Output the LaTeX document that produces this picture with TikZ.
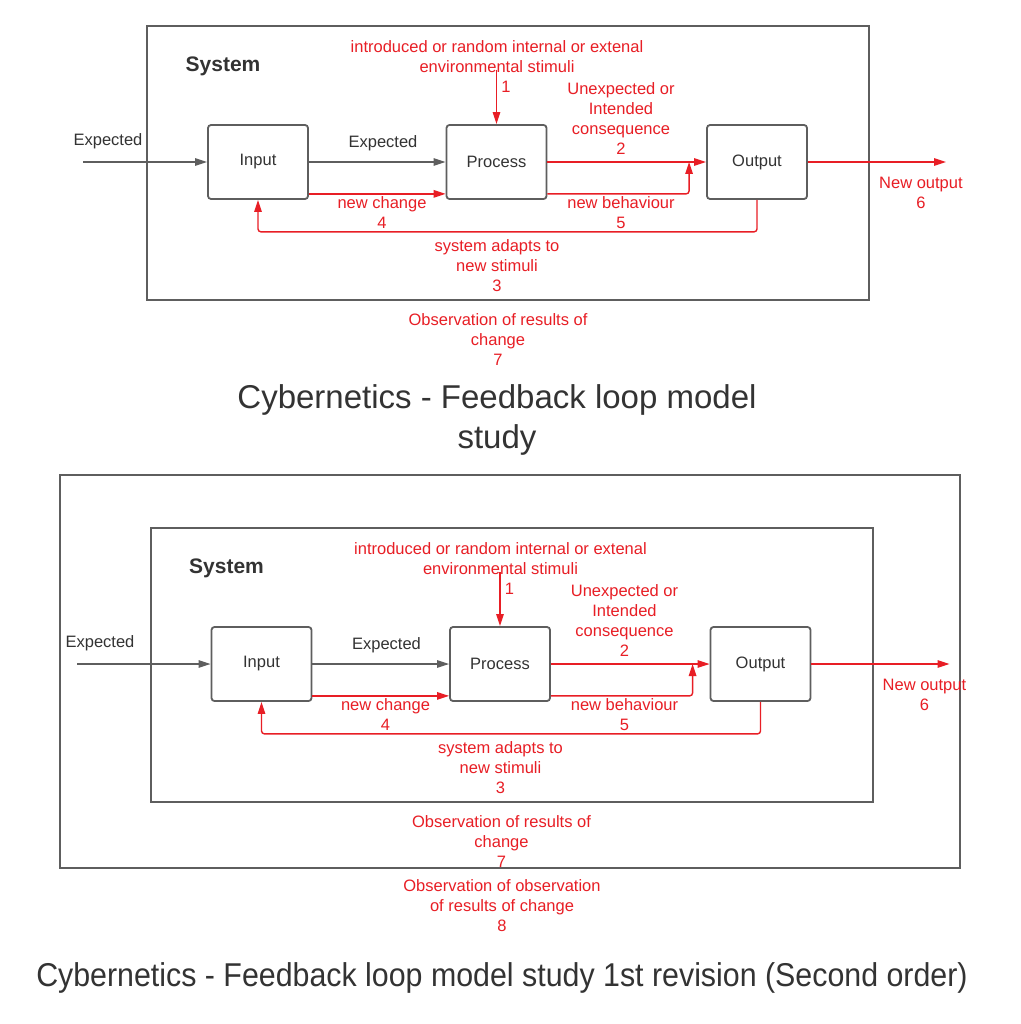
\documentclass[tikz,border=0pt]{standalone}
\usepackage{fontspec}
\setmainfont{Liberation Sans}
\usetikzlibrary{arrows.meta,calc}
\definecolor{lred}{RGB}{232,30,37}
\definecolor{lgray}{RGB}{94,94,94}
\definecolor{ltext}{RGB}{51,51,51}
\newcommand\lfont{\fontsize{16.5}{20}\selectfont}
\newcommand\tfont{\fontsize{33}{40}\selectfont}
\tikzset{
  block/.style={draw=lgray,line width=1.8pt,rounded corners=3pt,minimum width=100pt,minimum height=74pt,inner sep=0pt,text=ltext,font=\lfont},
  frame/.style={draw=lgray,line width=2pt},
  gline/.style={draw=lgray,line width=1.3pt,-{Triangle[length=12pt,width=7.5pt]}},
  rline/.style={draw=lred,line width=1.4pt,-{Triangle[length=12pt,width=7.5pt]},rounded corners=3pt},
  rlabel/.style={text=lred,font=\lfont,align=center,inner sep=0pt},
  glabel/.style={text=ltext,font=\lfont,align=center,inner sep=0pt},
  titlelabel/.style={text=ltext,font=\tfont,align=center,inner sep=0pt},
}
% #1 suffix, #2 #3 shift, #4 x of free start of input arrow, #5 x of its label
\newcommand\cyberdraw[5]{%
\begin{scope}[shift={(#2,#3)}]
  \draw[frame] (147,26) rectangle (869,300);
  \node[text=ltext,font=\fontsize{21}{25}\selectfont\bfseries,inner sep=0pt] (sys#1) at (223,66) {System};
  \node[block] (in#1) at (258,162) {Input};
  \node[block] (pr#1) at (496.5,162) {Process};
  \node[block] (out#1) at (757,162) {Output};
  \coordinate (src#1) at (#4,162);
  \coordinate (stim#1) at (496.5,70);
  \coordinate (dst#1) at (946,162);
  \draw[gline] (src#1) -- (in#1);
  \draw[gline] (in#1) -- (pr#1);
  \draw[rline] (stim#1) -- (pr#1.north);
  \draw[rline] (pr#1) -- (out#1);
  \draw[rline] ([yshift=6pt]in#1.south east) -- ([yshift=6pt]pr#1.south west);
  \draw[rline] ([yshift=6pt]pr#1.south east) -| ($(out#1.west)+(-17,0)$);
  \draw[rline] (out#1.south) -- ++(0,32) -| (in#1.south);
  \draw[rline] (out#1) -- (dst#1);
  \node[glabel] (le1#1) at (#5,141) {Expected};
  \node[glabel] (le2#1) at (383,143) {Expected};
  \node[rlabel] (lst#1) at (497,57) {introduced or random internal or extenal\\environmental stimuli};
  \node[rlabel] (lone#1) at (506,87) {1};
  \node[rlabel] (lcon#1) at (621,119) {Unexpected or\\Intended\\consequence\\2};
  \node[rlabel] (lchg#1) at (382,213) {new change\\4};
  \node[rlabel] (lbeh#1) at (621,213) {new behaviour\\5};
  \node[rlabel] (lad#1) at (497,266) {system adapts to\\new stimuli\\3};
  \node[rlabel] (lout#1) at ($(out#1.east)+(113,31)$) {New output\\6};
  \node[rlabel] (lobs#1) at (498,340) {Observation of results of\\change\\7};
\end{scope}}
\begin{document}
\begin{tikzpicture}[x=1pt,y=-1pt]
  \useasboundingbox[fill=white] (0,0) rectangle (1020,1024);
  \cyberdraw{a}{0}{0}{83}{108}
  \node[titlelabel] (title1) at (497,420) {Cybernetics - Feedback loop model\\study};
  \draw[frame,line width=2.2pt] (60,475) rectangle (960,868);
  \cyberdraw{b}{3.5}{502}{73.5}{96.5}
  \node[rlabel] (lobs2) at (502,906) {Observation of observation\\of results of change\\8};
  \node[titlelabel] (title2) at (502,978) {\scalebox{0.92}[1]{Cybernetics - Feedback loop model study 1st revision (Second order)}};
\end{tikzpicture}
\end{document}
